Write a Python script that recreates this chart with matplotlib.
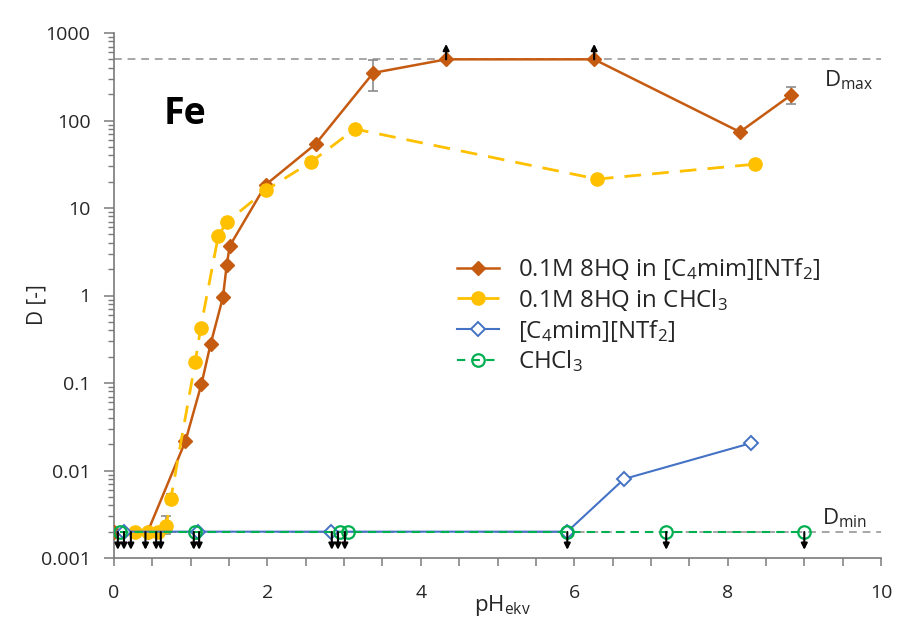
import matplotlib
matplotlib.use("Agg")
import matplotlib.pyplot as plt
from matplotlib.ticker import FixedLocator, MultipleLocator, NullFormatter, LogLocator

plt.rcParams['font.family'] = ['Open Sans', 'DejaVu Sans']
plt.rcParams['mathtext.fontset'] = 'custom'
plt.rcParams['mathtext.rm'] = 'Open Sans'
plt.rcParams['mathtext.it'] = 'Open Sans:italic'
plt.rcParams['mathtext.bf'] = 'Open Sans:bold'

# ---------------- data ----------------
D_MIN = 0.002
D_MAX = 500

# 0.1M 8HQ in [C4mim][NTf2]
il8hq_x = [0.0, 0.44, 0.93, 1.14, 1.26, 1.42, 1.47, 1.51, 1.98, 2.63, 3.38, 4.33, 6.26, 8.16, 8.83]
il8hq_d = [0.002, 0.002, 0.0215, 0.097, 0.28, 0.95, 2.25, 3.7, 18.5, 54, 350, 500, 500, 74, 196]

# 0.1M 8HQ in CHCl3
ch8hq_x = [0.27, 0.44, 0.57, 0.68, 0.74, 1.06, 1.13, 1.36, 1.47, 1.98, 2.57, 3.14, 6.30, 8.36]
ch8hq_d = [0.002, 0.002, 0.002, 0.0023, 0.0047, 0.175, 0.43, 4.8, 6.9, 16, 33.6, 80, 21.4, 31.7]

# [C4mim][NTf2]
il_x = [0.13, 1.10, 2.83, 5.91, 6.65, 8.30]
il_d = [0.002, 0.002, 0.002, 0.002, 0.008, 0.0205]

# CHCl3
ch_x = [0.08, 1.05, 2.95, 3.05, 5.91, 7.20, 9.00]
ch_d = [0.002, 0.002, 0.002, 0.002, 0.002, 0.002, 0.002]

# error bars: (x, value, lower, upper)
err_x = [3.38, 8.83, 0.68, 0.74]
err_d = [350, 196, 0.0023, 0.0047]
err_lo = [218, 155, 0.0019, 0.0041]
err_hi = [490, 244, 0.0030, 0.0054]

# limit arrows
down_arrow_x = [0.05, 0.13, 0.22, 0.41, 0.55, 0.61, 1.04, 1.11, 2.84, 2.92, 3.01, 5.91, 7.20, 9.00]
up_arrow_x = [4.33, 6.26]

labels = [r'0.1M 8HQ in [C$_4$mim][NTf$_2$]',
          r'0.1M 8HQ in CHCl$_3$',
          r'[C$_4$mim][NTf$_2$]',
          r'CHCl$_3$']

x_ticks = [0, 2, 4, 6, 8, 10]
y_ticks = [0.001, 0.01, 0.1, 1, 10, 100, 1000]
y_ticklabels = ['0.001', '0.01', '0.1', '1', '10', '100', '1000']

# colours
C_BROWN = '#C55A11'
C_YEL = '#FFC000'
C_BLUE = '#4472C4'
C_GREEN = '#00B050'
C_AX = '#7a7a7a'
C_TXT = '#262626'

fig = plt.figure(figsize=(9.01, 6.21), dpi=100)
ax = fig.add_axes([114/901, 1-558/621, (881-114)/901, (558-33)/621])

ax.set_xscale('linear')
ax.set_yscale('log')
ax.set_xlim(0, 10)
ax.set_ylim(0.001, 1000)

# reference lines
ax.axhline(D_MAX, color='#A6A6A6', lw=1.4, ls=(0, (4, 3)), zorder=1)
ax.axhline(D_MIN, color='#A6A6A6', lw=1.4, ls=(0, (4, 3)), zorder=1)

# error bars
for x, d, lo, hi in zip(err_x, err_d, err_lo, err_hi):
    ax.errorbar([x], [d], yerr=[[d - lo], [hi - d]], fmt='none', ecolor='#8c8c8c',
                elinewidth=1.2, capsize=3.5, capthick=1.2, zorder=2)

l1, = ax.plot(il8hq_x, il8hq_d, color=C_BROWN, lw=1.8, marker='D', ms=7, mfc=C_BROWN,
              mec=C_BROWN, zorder=3)
l2, = ax.plot(ch8hq_x, ch8hq_d, color=C_YEL, lw=2.0, ls=(0, (6, 4)), marker='o', ms=9.5,
              mfc=C_YEL, mec=C_YEL, zorder=4)
l3, = ax.plot(il_x, il_d, color=C_BLUE, lw=1.5, marker='D', ms=7, mfc='white',
              mec=C_BLUE, mew=1.4, zorder=5)
l4, = ax.plot(ch_x, ch_d, color=C_GREEN, lw=1.5, ls=(0, (4, 3)), marker='o', ms=9,
              mfc='none', mec=C_GREEN, mew=1.6, zorder=6)

# arrows
for x in down_arrow_x:
    ax.annotate('', xy=(x, D_MIN * 0.62), xytext=(x, D_MIN * 0.99),
                arrowprops=dict(arrowstyle='-|>', color='black', lw=1.5,
                                mutation_scale=9, shrinkA=0, shrinkB=0), zorder=7)
for x in up_arrow_x:
    ax.annotate('', xy=(x, D_MAX * 1.5), xytext=(x, D_MAX * 1.0),
                arrowprops=dict(arrowstyle='-|>', color='black', lw=1.5,
                                mutation_scale=9, shrinkA=0, shrinkB=0), zorder=7)

# spines
for s in ['top', 'right']:
    ax.spines[s].set_visible(False)
for s in ['left', 'bottom']:
    ax.spines[s].set_color(C_AX)
    ax.spines[s].set_linewidth(1.2)

ax.xaxis.set_major_locator(FixedLocator(x_ticks))
ax.xaxis.set_minor_locator(MultipleLocator(0.5))
ax.set_xticklabels([str(t) for t in x_ticks])
ax.yaxis.set_major_locator(FixedLocator(y_ticks))
ax.set_yticklabels(y_ticklabels)
ax.yaxis.set_minor_locator(LogLocator(base=10, subs=range(2, 10), numticks=20))
ax.yaxis.set_minor_formatter(NullFormatter())

ax.tick_params(axis='x', which='both', direction='out', length=6, width=1.1, color=C_AX,
               labelsize=14, labelcolor=C_TXT, pad=13)
ax.tick_params(axis='y', which='major', direction='out', length=7, width=1.1, color=C_AX,
               labelsize=14, labelcolor=C_TXT, pad=10)
ax.tick_params(axis='y', which='minor', direction='out', length=4, width=1.0, color=C_AX)

ax.set_xlabel(r'pH$_{\mathrm{ekv}}$', fontsize=16, color=C_TXT, va='center')
ax.xaxis.set_label_coords((502-114)/767, -(606-558)/525)
ax.set_ylabel('D [-]', fontsize=15, color=C_TXT, va='center')
ax.yaxis.set_label_coords((37-114)/767, (558-305)/525)

ax.text(0.65, 120, 'Fe', fontsize=27, fontweight='bold', color='black', va='center', ha='left')
ax.text(9.26, 243, r'D$_{\mathrm{max}}$', fontsize=16, color=C_TXT, va='baseline', ha='left')
ax.text(9.23, 0.00245, r'D$_{\mathrm{min}}$', fontsize=16, color=C_TXT, va='baseline', ha='left')

leg = ax.legend([l1, l2, l3, l4], labels, loc='upper left',
                bbox_to_anchor=(445/901, 1-244/621), bbox_transform=fig.transFigure,
                frameon=False, fontsize=17.3, handlelength=1.75, handletextpad=0.8,
                labelspacing=0.2, borderpad=0, numpoints=1)
for t in leg.get_texts():
    t.set_color(C_TXT)

fig.savefig('out.png', dpi=100)
